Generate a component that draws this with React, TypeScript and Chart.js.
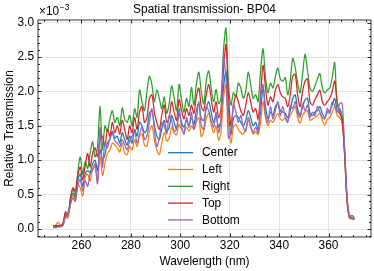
import React, { useEffect, useRef } from "react";
import { Chart, registerables } from "chart.js";

Chart.register(...registerables);

const wavelengths = [
  248.5, 249.5, 250.5, 251.5, 252.5, 253.5, 254.5, 255.5, 256.5, 257.5,
  258.5, 259.5, 260.5, 261.5, 262.5, 263.5, 264.5, 265.5, 266.5, 267.5,
  268.5, 269.5, 270.5, 271.5, 272.5, 273.5, 274.5, 275.5, 276.5, 277.5,
  278.5, 279.5, 280.5, 281.5, 282.5, 283.5, 284.5, 285.5, 286.5, 287.5,
  288.5, 289.5, 290.5, 291.5, 292.5, 293.5, 294.5, 295.5, 296.5, 297.5,
  298.5, 299.5, 300.5, 301.5, 302.5, 303.5, 304.5, 305.5, 306.5, 307.5,
  308.5, 309.5, 310.5, 311.5, 312.5, 313.5, 314.5, 315.5, 316.5, 317.5,
  318.5, 319.5, 320.5, 321.5, 322.5, 323.5, 324.5, 325.5, 326.5, 327.5,
  328.5, 329.5, 330.5, 331.5, 332.5, 333.5, 334.5, 335.5, 336.5, 337.5,
  338.5, 339.5, 340.5, 341.5, 342.5, 343.5, 344.5, 345.5, 346.5, 347.5,
  348.5, 349.5, 350.5, 351.5, 352.5, 353.5, 354.5, 355.5, 356.5, 357.5,
  358.5, 359.5, 360.5, 361.5, 362.5, 363.5, 364.5, 365.5, 366.5, 367.5,
  368.5, 369.5, 370.5,
];

const center = [
  .04, .04, .04, .05, .06, .20, .18, .38, .52, .45,
  .70, .80, .62, .80, .85, .82, .95, 1.00, .85, 1.15,
  1.00, 1.08, 1.25, 1.30, 1.42, 1.32, 1.35, 1.25, 1.40, 1.30,
  1.22, 1.35, 1.25, 1.45, 1.35, 1.55, 1.50, 1.40, 1.45, 1.68,
  1.72, 1.52, 1.35, 1.30, 1.45, 1.58, 1.42, 1.48, 1.65, 1.55,
  1.45, 1.68, 1.55, 1.48, 1.58, 1.50, 1.62, 1.52, 1.72, 1.82,
  1.60, 1.58, 1.75, 1.85, 1.70, 1.55, 1.65, 1.48, 1.58, 2.05,
  2.30, 1.70, 1.38, 1.60, 1.65, 1.62, 1.55, 1.50, 1.58, 1.72,
  1.62, 1.50, 1.55, 1.45, 1.70, 2.05, 1.78, 1.60, 1.70, 1.65,
  1.78, 1.82, 1.72, 1.70, 1.68, 1.62, 1.72, 1.90, 1.95, 1.75,
  1.65, 1.78, 1.88, 1.90, 1.68, 1.65, 1.70, 1.72, 1.78, 1.68,
  1.62, 1.70, 1.72, 1.80, 1.90, 1.72, 1.68, 1.60, 1.12, .43,
  .16, .16, .15,
];

const left = [
  .04, .05, .10, .05, .06, .17, .16, .36, .50, .42,
  .65, .60, .48, .75, .80, .70, .88, .90, .68, 1.05,
  .78, .95, 1.10, 1.15, 1.25, 1.22, 1.18, 1.12, 1.25, 1.10,
  1.08, 1.20, 1.15, 1.30, 1.20, 1.35, 1.38, 1.22, 1.20, 1.42,
  1.50, 1.30, 1.15, 1.08, 1.25, 1.40, 1.28, 1.32, 1.48, 1.40,
  1.37, 1.52, 1.45, 1.40, 1.48, 1.42, 1.50, 1.45, 1.55, 1.62,
  1.34, 1.42, 1.60, 1.68, 1.52, 1.40, 1.50, 1.29, 1.42, 1.90,
  2.10, 1.55, 1.25, 1.48, 1.52, 1.45, 1.40, 1.38, 1.45, 1.58,
  1.48, 1.38, 1.42, 1.37, 1.55, 1.85, 1.62, 1.50, 1.58, 1.55,
  1.62, 1.68, 1.60, 1.58, 1.62, 1.58, 1.65, 1.72, 1.78, 1.62,
  1.54, 1.65, 1.70, 1.72, 1.58, 1.60, 1.62, 1.65, 1.68, 1.58,
  1.51, 1.60, 1.62, 1.70, 1.78, 1.65, 1.62, 1.55, 1.08, .40,
  .16, .15, .15,
];

const right = [
  .04, .04, .04, .05, .07, .22, .20, .45, .58, .48,
  .82, 1.05, .80, .98, .88, 1.10, 1.27, 1.05, 1.20, 1.78,
  1.15, 1.50, 1.42, 1.60, 1.72, 1.55, 1.62, 1.50, 1.76, 1.60,
  1.55, 1.65, 1.50, 1.75, 1.62, 2.02, 1.85, 1.72, 2.00, 2.22,
  2.10, 1.85, 2.02, 1.90, 1.75, 1.92, 1.68, 1.82, 2.08, 1.90,
  1.72, 2.10, 1.88, 1.70, 1.90, 1.78, 2.06, 1.80, 2.10, 2.28,
  2.00, 1.82, 2.15, 2.30, 2.05, 1.85, 2.03, 1.82, 1.90, 2.60,
  2.92, 2.10, 1.80, 1.98, 1.92, 2.12, 2.05, 1.90, 2.00, 2.28,
  2.10, 1.90, 1.95, 1.85, 2.30, 2.62, 2.20, 1.98, 2.12, 2.05,
  2.22, 2.34, 2.18, 2.15, 2.20, 1.95, 2.15, 2.48, 2.35, 2.12,
  1.98, 2.25, 2.54, 2.30, 2.05, 2.00, 2.08, 2.18, 2.26, 2.05,
  1.98, 2.02, 2.05, 2.20, 2.42, 1.80, 1.75, 1.65, 1.15, .45,
  .18, .20, .16,
];

const top = [
  .05, .05, .05, .05, .08, .25, .22, .42, .60, .55,
  .78, .90, .72, .92, 1.10, .90, 1.10, 1.18, 1.05, 1.30,
  1.35, 1.20, 1.45, 1.35, 1.55, 1.40, 1.50, 1.38, 1.58, 1.45,
  1.30, 1.50, 1.40, 1.62, 1.45, 1.70, 1.78, 1.55, 1.62, 1.90,
  1.95, 1.70, 1.55, 1.45, 1.65, 1.80, 1.55, 1.62, 1.85, 1.70,
  1.58, 1.88, 1.72, 1.60, 1.75, 1.65, 1.80, 1.68, 1.92, 2.05,
  1.78, 1.72, 1.95, 2.10, 1.90, 1.70, 1.85, 1.62, 1.75, 2.30,
  2.68, 1.95, 1.50, 1.78, 1.95, 1.85, 1.72, 1.65, 1.80, 1.98,
  1.85, 1.70, 1.75, 1.60, 1.95, 2.38, 2.05, 1.80, 1.92, 1.85,
  2.02, 2.10, 1.98, 1.92, 1.90, 1.78, 1.95, 2.22, 2.25, 1.95,
  1.78, 2.00, 2.15, 2.18, 1.85, 1.80, 1.88, 1.95, 2.02, 1.85,
  1.80, 1.85, 1.90, 2.00, 2.15, 1.85, 1.70, 1.58, 1.10, .42,
  .17, .15, .14,
];

const bottom = [
  .02, .02, .03, .03, .05, .18, .20, .35, .45, .40,
  .62, .72, .55, .70, .62, .80, .85, .95, .66, 1.48,
  .90, 1.25, 1.18, 1.32, 1.38, 1.28, 1.25, 1.20, 1.30, 1.22,
  1.15, 1.28, 1.35, 1.42, 1.25, 1.38, 1.48, 1.30, 1.35, 1.55,
  1.75, 1.45, 1.20, 1.32, 1.55, 1.50, 1.38, 1.65, 1.58, 1.42,
  1.45, 1.75, 1.50, 1.38, 1.62, 1.48, 1.70, 1.45, 1.60, 1.85,
  1.50, 1.45, 1.78, 1.72, 1.58, 1.48, 1.70, 1.40, 1.62, 2.50,
  2.20, 1.32, 1.40, 1.82, 1.70, 1.55, 1.65, 1.48, 1.42, 1.62,
  1.50, 1.40, 1.48, 1.40, 1.90, 2.10, 1.65, 1.55, 1.78, 1.60,
  1.72, 1.85, 1.65, 1.78, 1.62, 1.55, 1.80, 1.75, 1.85, 1.68,
  1.62, 1.82, 1.72, 1.80, 1.62, 1.70, 1.65, 1.78, 1.70, 1.62,
  1.60, 1.75, 1.68, 1.85, 1.80, 1.70, 1.82, 1.83, 1.20, .48,
  .19, .17, .14,
];

const seriesNames = ["Center", "Left", "Right", "Top", "Bottom"];
const seriesValues = [center, left, right, top, bottom];
const seriesColors = ["#1f77b4", "#ff7f0e", "#2ca02c", "#d62728", "#9467bd"];

const xMajorTicks = [260, 280, 300, 320, 340, 360];
const yMajorTicks = [0, 0.5, 1.0, 1.5, 2.0, 2.5, 3.0];

const titleText = "Spatial transmission- BP04";
const xTitle = "Wavelength (nm)";
const yTitle = "Relative Transmission";

const FONT = "'Liberation Sans', Arial, Helvetica, sans-serif";
const FS = 11.9;

const decorPlugin = {
  id: "decor",
  afterDatasetsDraw(chart: any) {
    const ctx = chart.ctx as CanvasRenderingContext2D;
    const a = chart.chartArea;
    const xs = chart.scales.x;
    const ys = chart.scales.y;
    ctx.save();
    ctx.strokeStyle = "#000";
    ctx.lineWidth = 0.8;
    ctx.strokeRect(a.left, a.top, a.right - a.left, a.bottom - a.top);
    ctx.beginPath();
    for (let v = 245; v <= 375; v += 5) {
      const px = Math.round(xs.getPixelForValue(v)) + 0.5;
      if (px < a.left || px > a.right) continue;
      const len = v % 20 === 0 ? 3.5 : 2;
      ctx.moveTo(px, a.bottom);
      ctx.lineTo(px, a.bottom - len);
      ctx.moveTo(px, a.top);
      ctx.lineTo(px, a.top + len);
    }
    for (let k = -1; k <= 30; k++) {
      const v = k / 10;
      const py = Math.round(ys.getPixelForValue(v)) + 0.5;
      if (py < a.top || py > a.bottom) continue;
      const len = k % 5 === 0 ? 3.5 : 2;
      ctx.moveTo(a.left, py);
      ctx.lineTo(a.left + len, py);
      ctx.moveTo(a.right, py);
      ctx.lineTo(a.right - len, py);
    }
    ctx.stroke();

    ctx.font = `${FS}px ${FONT}`;
    ctx.textBaseline = "middle";
    ctx.textAlign = "left";
    seriesNames.forEach((name, i) => {
      const y = 152.7 + i * 16.8;
      ctx.strokeStyle = seriesColors[i];
      ctx.lineWidth = 1.3;
      ctx.beginPath();
      ctx.moveTo(168, y);
      ctx.lineTo(193, y);
      ctx.stroke();
      ctx.fillStyle = "#000";
      ctx.fillText(name, 202, y + 0.5);
    });

    ctx.fillStyle = "#000";
    ctx.textAlign = "center";
    ctx.textBaseline = "alphabetic";
    ctx.font = `${FS}px ${FONT}`;
    ctx.fillText(titleText, (a.left + a.right) / 2, 13);
    ctx.fillText(xTitle, (a.left + a.right) / 2, 265);
    ctx.save();
    ctx.translate(13, (a.top + a.bottom) / 2);
    ctx.rotate(-Math.PI / 2);
    ctx.fillText(yTitle, 0, 0);
    ctx.restore();
    ctx.textAlign = "left";
    ctx.font = `${FS}px ${FONT}`;
    ctx.fillText("\u00d710", 39, 15);
    const w = ctx.measureText("\u00d710").width;
    ctx.font = `${FS * 0.72}px ${FONT}`;
    ctx.fillText("\u22123", 39 + w + 0.5, 10);
    ctx.restore();
  },
};

export default function App() {
  const ref = useRef<HTMLCanvasElement>(null);
  useEffect(() => {
    document.body.style.margin = "0";
    const datasets = seriesNames.map((name, i) => ({
      label: name,
      data: wavelengths.map((x, j) => ({ x, y: seriesValues[i][j] })),
      borderColor: seriesColors[i],
      backgroundColor: seriesColors[i],
      borderWidth: 1.25,
      pointRadius: 0,
      fill: false,
      tension: 0.3,
      order: 4 - i,
    }));
    const chart = new Chart(ref.current!, {
      type: "line",
      data: { datasets },
      plugins: [decorPlugin],
      options: {
        animation: false,
        responsive: false,
        devicePixelRatio: 1,
        layout: { padding: { top: 20, right: 3, left: 0, bottom: 0 } },
        plugins: {
          legend: { display: false },
          title: { display: false },
          tooltip: { enabled: false },
        },
        scales: {
          x: {
            type: "linear",
            min: 242.4,
            max: 377.2,
            afterBuildTicks: (s: any) => {
              s.ticks = xMajorTicks.map((v) => ({ value: v }));
            },
            afterFit: (s: any) => {
              s.height = 34;
            },
            grid: { color: "#e3e3e3", lineWidth: 1, drawTicks: false },
            border: { display: false },
            ticks: {
              padding: 1.5,
              color: "#000",
              font: { family: FONT, size: FS },
              maxRotation: 0,
              callback: (v: any) => String(v),
            },
          },
          y: {
            type: "linear",
            min: -0.116,
            max: 3.038,
            afterBuildTicks: (s: any) => {
              s.ticks = yMajorTicks.map((v) => ({ value: v }));
            },
            afterFit: (s: any) => {
              s.width = 38;
            },
            grid: { color: "#e3e3e3", lineWidth: 1, drawTicks: false },
            border: { display: false },
            ticks: {
              padding: 4,
              color: "#000",
              font: { family: FONT, size: FS },
              callback: (v: any) => Number(v).toFixed(1),
            },
          },
        },
      },
    } as any);
    return () => chart.destroy();
  }, []);
  return (
    <canvas
      ref={ref}
      width={374}
      height={271}
      style={{ display: "block", width: 374, height: 271 }}
    />
  );
}
